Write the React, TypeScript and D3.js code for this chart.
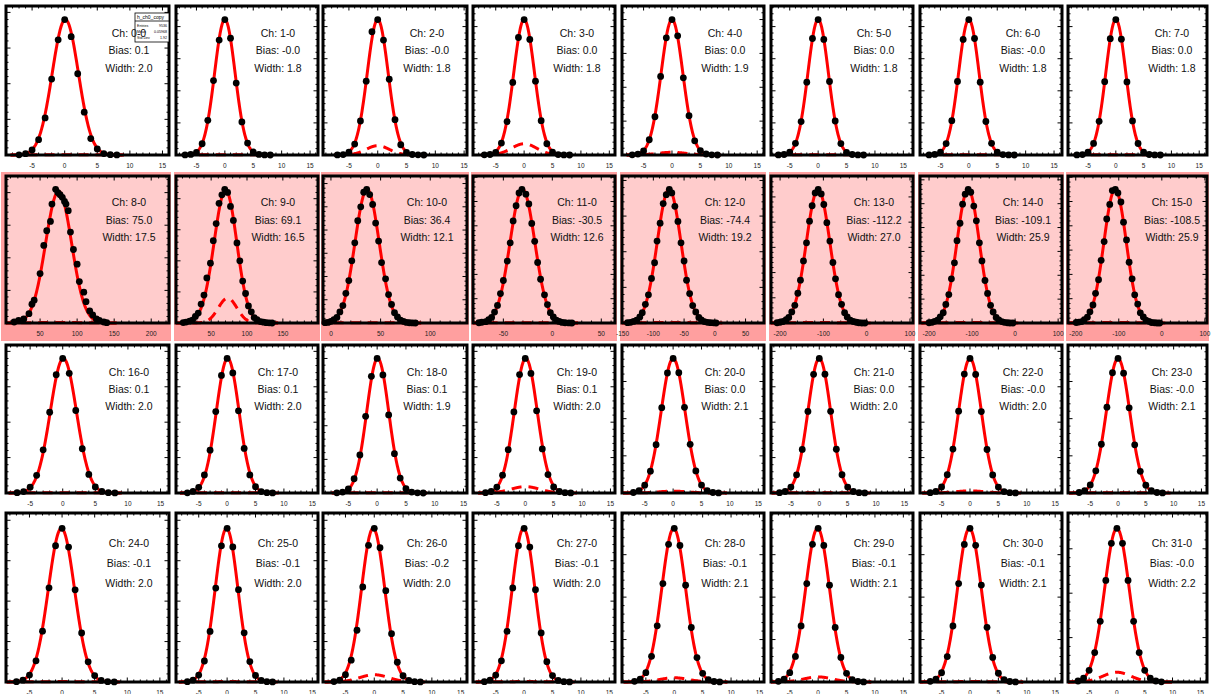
import React from "react";
import * as d3 from "d3";

// ---------------- DATA ----------------
const CH_LABELS = [
  "Ch: 0-0", "Ch: 1-0", "Ch: 2-0", "Ch: 3-0", "Ch: 4-0", "Ch: 5-0", "Ch: 6-0", "Ch: 7-0",
  "Ch: 8-0", "Ch: 9-0", "Ch: 10-0", "Ch: 11-0", "Ch: 12-0", "Ch: 13-0", "Ch: 14-0", "Ch: 15-0",
  "Ch: 16-0", "Ch: 17-0", "Ch: 18-0", "Ch: 19-0", "Ch: 20-0", "Ch: 21-0", "Ch: 22-0", "Ch: 23-0",
  "Ch: 24-0", "Ch: 25-0", "Ch: 26-0", "Ch: 27-0", "Ch: 28-0", "Ch: 29-0", "Ch: 30-0", "Ch: 31-0",
];
const BIAS = [
  "0.1", "-0.0", "-0.0", "0.0", "0.0", "0.0", "-0.0", "0.0",
  "75.0", "69.1", "36.4", "-30.5", "-74.4", "-112.2", "-109.1", "-108.5",
  "0.1", "0.1", "0.1", "0.1", "0.0", "0.0", "-0.0", "-0.0",
  "-0.1", "-0.1", "-0.2", "-0.1", "-0.1", "-0.1", "-0.1", "-0.0",
];
const WIDTH = [
  "2.0", "1.8", "1.8", "1.8", "1.9", "1.8", "1.8", "1.8",
  "17.5", "16.5", "12.1", "12.6", "19.2", "27.0", "25.9", "25.9",
  "2.0", "2.0", "1.9", "2.0", "2.1", "2.0", "2.0", "2.1",
  "2.0", "2.0", "2.0", "2.0", "2.1", "2.1", "2.1", "2.2",
];

// bin centres of the narrow (calibrated) channels
const BINS = [-7, -6, -5, -4, -3, -2, -1, 0, 1, 2, 3, 4, 5, 6, 7, 8];

const CH0 = [3, 18, 70, 215, 520, 1065, 1615, 1900, 1660, 1140, 600, 230, 85, 20, 4, 1];
const CH1 = [1, 9, 40, 175, 540, 1160, 1790, 2110, 1820, 1120, 515, 185, 47, 9, 1, 0];
const CH2 = [1, 7, 46, 170, 530, 1150, 1920, 2110, 1790, 1180, 550, 160, 40, 8, 2, 0];
const CH3 = [2, 8, 42, 185, 520, 1130, 1830, 2110, 1800, 1150, 535, 175, 45, 7, 1, 0];
const CH4 = [2, 13, 60, 225, 565, 1160, 1730, 2000, 1760, 1140, 580, 210, 65, 15, 2, 0];
const CH5 = [1, 8, 45, 182, 520, 1135, 1815, 2110, 1800, 1145, 530, 178, 42, 8, 1, 0];
const CH6 = [1, 9, 43, 178, 535, 1145, 1800, 2110, 1815, 1135, 522, 182, 45, 7, 1, 0];
const CH7 = [1, 7, 44, 181, 525, 1142, 1812, 2110, 1805, 1138, 531, 179, 43, 8, 1, 0];
const CH16 = [4, 20, 82, 250, 610, 1140, 1670, 1900, 1690, 1165, 625, 262, 86, 22, 4, 1];
const CH17 = [3, 22, 80, 255, 605, 1150, 1660, 1900, 1695, 1160, 630, 255, 88, 20, 5, 1];
const CH18 = [2, 14, 60, 212, 565, 1140, 1735, 2000, 1755, 1160, 585, 222, 64, 14, 2, 0];
const CH19 = [4, 21, 83, 252, 612, 1145, 1672, 1900, 1688, 1160, 622, 260, 85, 21, 4, 1];
const CH20 = [7, 30, 105, 293, 650, 1148, 1614, 1810, 1618, 1152, 655, 297, 107, 31, 7, 1];
const CH21 = [4, 21, 84, 256, 616, 1152, 1676, 1900, 1678, 1154, 618, 258, 84, 21, 4, 1];
const CH22 = [4, 22, 85, 258, 620, 1156, 1680, 1900, 1674, 1150, 614, 255, 83, 20, 4, 1];
const CH23 = [7, 32, 108, 298, 656, 1154, 1618, 1810, 1612, 1146, 648, 292, 104, 30, 7, 1];
const CH24 = [4, 22, 86, 262, 628, 1165, 1685, 1900, 1668, 1140, 606, 250, 80, 20, 4, 1];
const CH25 = [4, 22, 86, 260, 626, 1162, 1684, 1900, 1670, 1142, 608, 252, 81, 20, 4, 1];
const CH26 = [5, 24, 90, 270, 640, 1175, 1690, 1900, 1660, 1130, 598, 244, 78, 19, 4, 1];
const CH27 = [4, 22, 86, 262, 627, 1164, 1685, 1900, 1669, 1141, 607, 251, 80, 20, 4, 1];
const CH28 = [8, 33, 110, 302, 662, 1160, 1622, 1810, 1608, 1140, 642, 288, 102, 29, 6, 1];
const CH29 = [8, 33, 110, 301, 661, 1160, 1622, 1810, 1609, 1141, 643, 289, 102, 29, 6, 1];
const CH30 = [8, 33, 109, 300, 660, 1159, 1621, 1810, 1610, 1142, 644, 290, 103, 29, 6, 1];
const CH31 = [11, 42, 131, 331, 683, 1144, 1561, 1730, 1561, 1144, 683, 331, 131, 42, 11, 2];

// wide (uncalibrated) channels: explicit bin centres and counts
const CH8_X = [15, 21, 28, 35, 39, 42, 50, 55, 59, 64, 66, 71, 74, 77, 80, 83, 85, 88, 91, 95, 100, 103, 109, 112, 117, 121, 126, 130, 136, 140];
const CH8 = [6, 16, 25, 57, 115, 140, 303, 476, 566, 623, 730, 820, 800, 787, 771, 746, 730, 689, 558, 451, 361, 254, 189, 131, 74, 49, 25, 16, 6, 2];
const CH9_X = [11, 15, 20, 24, 28, 32, 36, 40, 44, 49, 53, 57, 61, 65, 69, 73, 77, 81, 86, 90, 94, 98, 102, 106, 110, 114, 119, 123, 127, 131, 135];
const CH9 = [3, 6, 12, 18, 42, 64, 122, 180, 290, 385, 530, 640, 770, 825, 860, 840, 750, 660, 515, 400, 270, 190, 110, 72, 35, 22, 9, 5, 2, 1, 0];
const CH10_X = [-6, -3, 0, 3, 6, 9, 12, 15, 18, 21, 24, 27, 30, 33, 36, 39, 42, 45, 48, 51, 55, 58, 61, 64, 67, 70, 73, 76, 79, 82, 85];
const CH10 = [3, 5, 14, 28, 48, 95, 150, 255, 365, 535, 690, 880, 1000, 1125, 1150, 1105, 1020, 860, 705, 520, 380, 245, 160, 88, 52, 24, 14, 5, 2, 1, 0];
const CH11_X = [-75, -72, -68, -65, -62, -59, -56, -53, -50, -46, -43, -40, -37, -34, -31, -27, -24, -21, -18, -15, -12, -8, -5, -2, 1, 4, 7, 10, 13, 17, 20];
const CH11 = [2, 6, 11, 27, 46, 90, 145, 242, 350, 510, 660, 840, 965, 1070, 1100, 1060, 980, 820, 672, 498, 360, 232, 152, 85, 50, 24, 13, 5, 2, 1, 0];
const CH12_X = [-142, -137, -132, -127, -122, -118, -113, -108, -103, -98, -94, -89, -84, -79, -74, -70, -65, -60, -55, -50, -46, -41, -36, -31, -26, -22, -17, -12, -7, -2, 2];
const CH12 = [2, 4, 9, 16, 34, 58, 105, 158, 250, 338, 460, 560, 670, 720, 750, 730, 655, 570, 450, 348, 240, 165, 98, 62, 31, 18, 8, 4, 2, 1, 0];
const CH13_X = [-207, -200, -193, -186, -180, -173, -166, -159, -153, -146, -139, -132, -126, -119, -112, -105, -99, -92, -85, -78, -72, -65, -58, -51, -45, -38, -31, -24, -18, -11, -4];
const CH13 = [1, 3, 6, 13, 22, 44, 70, 118, 170, 246, 318, 404, 465, 516, 530, 512, 470, 398, 325, 240, 175, 112, 74, 41, 24, 11, 6, 3, 1, 0, 0];
const CH14_X = [-200, -193, -187, -180, -174, -167, -161, -154, -148, -141, -135, -128, -122, -116, -109, -103, -96, -90, -83, -77, -70, -64, -57, -51, -44, -38, -31, -25, -18, -12, -5];
const CH14 = [1, 3, 7, 12, 26, 43, 78, 119, 185, 252, 345, 418, 498, 540, 560, 548, 490, 428, 336, 260, 178, 124, 74, 46, 23, 13, 6, 3, 1, 0, 0];
const CH15_X = [-199, -193, -186, -180, -173, -167, -160, -154, -147, -141, -134, -128, -121, -115, -108, -102, -95, -89, -82, -76, -69, -63, -56, -50, -43, -37, -30, -24, -17, -11, -5];
const CH15 = [2, 4, 6, 14, 24, 46, 74, 122, 178, 258, 335, 428, 488, 545, 550, 535, 498, 415, 342, 250, 182, 116, 78, 42, 25, 12, 7, 2, 1, 0, 0];

// per-channel axis ranges and fit results
const X_MIN = [
  -9, -8.6, -9.5, -9, -8.8, -8.3, -8.6, -8.6,
  4, 1, -8, -81, -151, -221, -221, -218,
  -8.7, -9, -9.4, -9.2, -9, -8.5, -8.8, -9,
  -8.6, -9, -8.9, -9, -9.2, -8.3, -8.8, -8.8,
];
const X_SPAN = [
  25, 25, 25, 25, 25, 25, 25, 25,
  220, 198, 145, 145, 231, 328, 330, 323,
  25, 25, 25, 25, 25, 25, 25, 25,
  25, 25, 25, 25, 25, 25, 25, 25,
];
const X_STEP = [
  5, 5, 5, 5, 5, 5, 5, 5,
  50, 50, 50, 50, 50, 100, 100, 100,
  5, 5, 5, 5, 5, 5, 5, 5,
  5, 5, 5, 5, 5, 5, 5, 5,
];
const FIT_MEAN = [
  0.1, 0, 0, 0, 0, 0, 0, 0,
  75.0, 69.1, 36.4, -30.5, -74.4, -112.2, -109.1, -108.5,
  0.1, 0.1, 0.1, 0.1, 0, 0, 0, 0,
  -0.1, -0.1, -0.2, -0.1, -0.1, -0.1, -0.1, 0,
];
const FIT_SIGMA = [
  2.0, 1.8, 1.8, 1.8, 1.9, 1.8, 1.8, 1.8,
  17.5, 16.5, 12.1, 12.6, 19.2, 27.0, 25.9, 25.9,
  2.0, 2.0, 1.9, 2.0, 2.1, 2.0, 2.0, 2.1,
  2.0, 2.0, 2.0, 2.0, 2.1, 2.1, 2.1, 2.2,
];
const FIT_AMP = [
  1895, 2105, 1965, 1935, 1960, 2105, 2105, 2105,
  805, 700, 1147, 1097, 747, 528, 558, 548,
  1895, 1895, 1995, 1810, 1785, 1895, 1870, 1805,
  1895, 1895, 1810, 1895, 1760, 1750, 1805, 1620,
];
const BKG_AMP = [
  5, 5, 145, 175, 40, 5, 5, 5,
  3, 160, 3, 3, 3, 2, 2, 2,
  5, 5, 5, 90, 25, 5, 30, 5,
  5, 5, 90, 5, 50, 60, 5, 110,
];
const BKG_MEAN = [
  0, 0, 0, 0, 0, 0, 0, 0,
  75, 73, 36, -30, -74, -112, -109, -108,
  0, 0, 0, 0, 0, 0, 0, 0,
  0, 0, 0, 0, 0, 0, 0, 0,
];
const BKG_SIGMA = [
  4, 4, 2.0, 2.2, 2.5, 4, 4, 4,
  35, 13, 25, 25, 40, 55, 55, 55,
  4, 4, 4, 2.5, 2.5, 4, 2.5, 4,
  4, 4, 2.5, 4, 2.5, 2.5, 4, 2.5,
];

const STATS_LINES = [
  ["Entries", "9536"],
  ["Mean", "0.05968"],
  ["Std Dev", "1.92"],
];

// ---------------- LAYOUT ----------------
const FRAME_X: [number, number][] = [
  [6, 169], [176, 318], [323, 467], [473, 615], [622, 764], [771, 913], [920, 1062], [1068, 1207],
];
const FRAME_Y: [number, number][] = [[6, 155], [176, 323], [345, 493], [513, 682]];
const TEXT_CX = [129, 278, 427, 577, 725, 874, 1023, 1172];

const WIDE_X: Record<number, number[]> = { 8: CH8_X, 9: CH9_X, 10: CH10_X, 11: CH11_X, 12: CH12_X, 13: CH13_X, 14: CH14_X, 15: CH15_X };
const COUNTS: number[][] = [
  CH0, CH1, CH2, CH3, CH4, CH5, CH6, CH7,
  CH8, CH9, CH10, CH11, CH12, CH13, CH14, CH15,
  CH16, CH17, CH18, CH19, CH20, CH21, CH22, CH23,
  CH24, CH25, CH26, CH27, CH28, CH29, CH30, CH31,
];

const FONT = "'Liberation Sans', Arial, Helvetica, sans-serif";

function gauss(x: number, a: number, m: number, s: number) {
  return a * Math.exp(-0.5 * ((x - m) / s) * ((x - m) / s));
}

function Panel({ i }: { i: number }) {
  const r = Math.floor(i / 8);
  const c = i % 8;
  const [fx0, fx1] = FRAME_X[c];
  const [fy0, fy1] = FRAME_Y[r];
  const xs = WIDE_X[i] ?? BINS;
  const ys = COUNTS[i];
  const yMax = (d3.max(ys) as number) * 1.1;
  const xMin = X_MIN[i];
  const xMax = X_MIN[i] + X_SPAN[i];
  const x = d3.scaleLinear().domain([xMin, xMax]).range([fx0, fx1]);
  const y = d3.scaleLinear().domain([0, yMax]).range([fy1, fy0]);

  const step = X_STEP[i];
  const majors = d3.range(Math.ceil(xMin / step) * step, xMax + 1e-9, step);
  const mstep = step / 5;
  const minors = d3
    .range(Math.ceil(xMin / mstep) * mstep, xMax, mstep)
    .filter((v) => Math.abs(v / step - Math.round(v / step)) > 1e-6);
  const yStep = d3.tickStep(0, yMax, 5);
  const yMajors = d3.range(yStep, yMax, yStep);
  const yMinors = d3.range(yStep / 5, yMax, yStep / 5).filter((v) => Math.abs(v / yStep - Math.round(v / yStep)) > 1e-6);

  const m = FIT_MEAN[i];
  const s = FIT_SIGMA[i];
  const lo = m - 4.2 * s;
  const hi = m + 4.5 * s;
  const samples = d3.range(0, 301).map((k) => lo + ((hi - lo) * k) / 300);
  const total = d3
    .line<number>()
    .x((v) => x(v))
    .y((v) => y(gauss(v, FIT_AMP[i], m, s) + gauss(v, BKG_AMP[i], BKG_MEAN[i], BKG_SIGMA[i])));
  const bkg = d3
    .line<number>()
    .x((v) => x(v))
    .y((v) => y(gauss(v, BKG_AMP[i], BKG_MEAN[i], BKG_SIGMA[i])));

  const isBad = r === 1;
  const fh = fy1 - fy0;
  const tl = 4.5;
  const tm = 2.5;
  const clipId = `clip${i}`;

  return (
    <g>
      {isBad && <rect x={c === 0 ? 1 : fx0 - 2} y={172} width={fx1 - fx0 + (c === 0 ? 7 : 4)} height={169} fill="#ff9f9f" />}
      <rect x={fx0} y={fy0} width={fx1 - fx0} height={fh} fill={isBad ? "#ffcccc" : "#ffffff"} />
      <clipPath id={clipId}>
        <rect x={fx0} y={fy0 - 2} width={fx1 - fx0} height={fh + 6} />
      </clipPath>
      {/* ticks */}
      <g stroke="#000" strokeWidth={1}>
        {majors.map((v) => (
          <g key={`M${v}`}>
            <line x1={x(v)} x2={x(v)} y1={fy1} y2={fy1 - tl} />
            <line x1={x(v)} x2={x(v)} y1={fy0} y2={fy0 + tl} />
          </g>
        ))}
        {minors.map((v) => (
          <g key={`m${v}`}>
            <line x1={x(v)} x2={x(v)} y1={fy1} y2={fy1 - tm} />
            <line x1={x(v)} x2={x(v)} y1={fy0} y2={fy0 + tm} />
          </g>
        ))}
        {yMajors.map((v) => (
          <g key={`YM${v}`}>
            <line x1={fx0} x2={fx0 + tl} y1={y(v)} y2={y(v)} />
            <line x1={fx1} x2={fx1 - tl} y1={y(v)} y2={y(v)} />
          </g>
        ))}
        {yMinors.map((v) => (
          <g key={`Ym${v}`}>
            <line x1={fx0} x2={fx0 + tm} y1={y(v)} y2={y(v)} />
            <line x1={fx1} x2={fx1 - tm} y1={y(v)} y2={y(v)} />
          </g>
        ))}
      </g>
      {/* tick labels */}
      {majors.map((v) => (
        <text key={`L${v}`} x={x(v)} y={fy1 + 13} fontSize={6.5} fontFamily={FONT} textAnchor="middle" fill="#222">
          {v}
        </text>
      ))}
      {/* fit */}
      <g clipPath={`url(#${clipId})`}>
        <path d={bkg(samples) ?? ""} fill="none" stroke="#ff0000" strokeWidth={3} strokeDasharray="10,7" />
        <path d={total(samples) ?? ""} fill="none" stroke="#ff0000" strokeWidth={3} />
      </g>
      {/* points */}
      {xs.map((xv, k) => (
        <circle key={k} cx={x(xv)} cy={y(ys[k])} r={3.4} fill="#000" />
      ))}
      {/* frame */}
      <rect x={fx0} y={fy0} width={fx1 - fx0} height={fh} fill="none" stroke="#000" strokeWidth={3} />
      {i === 0 && (
        <g fontFamily={FONT}>
          <rect x={135} y={13} width={34} height={29} fill="#fff" stroke="#000" strokeWidth={0.8} />
          <line x1={135} x2={169} y1={21} y2={21} stroke="#000" strokeWidth={0.8} />
          <text x={137} y={19} fontSize={5}>h_ch0_copy</text>
          {STATS_LINES.map((l, k) => (
            <g key={k}>
              <text x={137} y={27 + k * 6} fontSize={3.6}>{l[0]}</text>
              <text x={167} y={27 + k * 6} fontSize={3.6} textAnchor="end">{l[1]}</text>
            </g>
          ))}
        </g>
      )}
      {/* labels */}
      <g fontFamily={FONT} fontSize={10.5} fill="#111" textAnchor="middle">
        <text x={TEXT_CX[c]} y={fy0 + fh * 0.18 + 4}>{CH_LABELS[i]}</text>
        <text x={TEXT_CX[c]} y={fy0 + fh * 0.297 + 4}>{`Bias: ${BIAS[i]}`}</text>
        <text x={TEXT_CX[c]} y={fy0 + fh * 0.415 + 4}>{`Width: ${WIDTH[i]}`}</text>
      </g>
    </g>
  );
}

export default function App() {
  return (
    <svg
      width={1212}
      height={694}
      style={{ position: "absolute", left: 0, top: 0, display: "block", background: "#fff" }}
    >
      <rect x={0} y={0} width={1212} height={694} fill="#fff" />
      {d3.range(32).map((i) => (
        <Panel key={i} i={i} />
      ))}
    </svg>
  );
}
